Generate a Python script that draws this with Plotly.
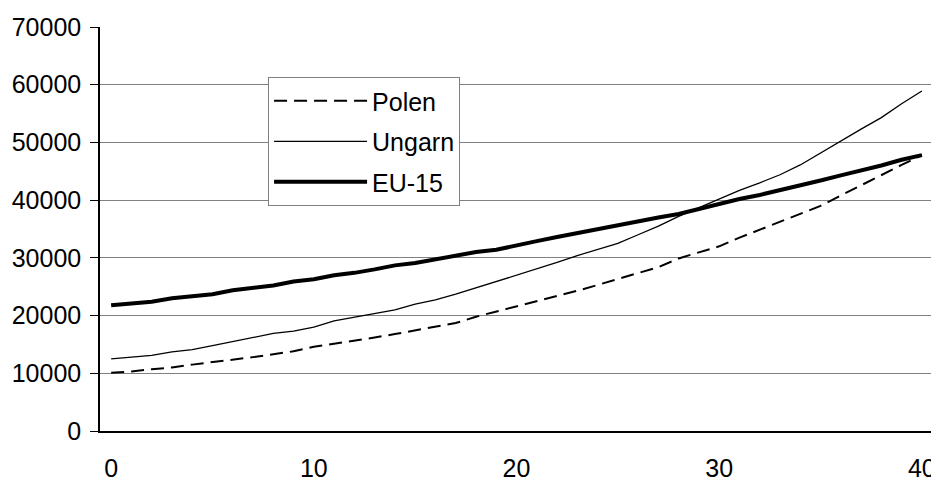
import plotly.graph_objects as go

years = list(range(0, 41))

polen = [10100, 10300, 10700, 11000, 11500, 11900, 12300, 12800, 13300, 13800,
         14600, 15100, 15700, 16200, 16800, 17400, 18000, 18700, 19800, 20700,
         21600, 22500, 23300, 24300, 25300, 26300, 27300, 28400, 29900, 31000,
         32000, 33500, 34900, 36300, 37600, 39000, 40800, 42600, 44300, 46100,
         47800]

ungarn = [12500, 12800, 13100, 13700, 14100, 14800, 15500, 16200, 16900, 17300,
          18000, 19100, 19700, 20400, 21000, 22000, 22700, 23700, 24800, 25900,
          27000, 28000, 29200, 30400, 31400, 32500, 34000, 35500, 37200, 38700,
          40200, 41700, 43000, 44400, 46100, 48200, 50300, 52300, 54300, 56700,
          58900]

eu15 = [21800, 22100, 22400, 23000, 23400, 23700, 24400, 24800, 25200, 25900,
        26300, 27000, 27400, 28000, 28700, 29100, 29700, 30300, 31000, 31400,
        32200, 32900, 33600, 34300, 34900, 35600, 36300, 37000, 37600, 38500,
        39400, 40200, 40900, 41700, 42600, 43400, 44300, 45100, 46000, 47000,
        47800]

x_ticks = [0, 10, 20, 30, 40]
y_ticks = [0, 10000, 20000, 30000, 40000, 50000, 60000, 70000]

FONT = "Liberation Sans, Arial, sans-serif"

fig = go.Figure()
fig.add_trace(go.Scatter(x=years, y=polen, name="Polen", mode="lines", legendgroup="a",
                         line=dict(color="black", width=2, dash="13px,7px")))
fig.add_trace(go.Scatter(x=years, y=ungarn, name="Ungarn", mode="lines", legendgroup="b",
                         line=dict(color="black", width=1.3)))
fig.add_trace(go.Scatter(x=years, y=eu15, name="EU-15", mode="lines", legendgroup="c",
                         line=dict(color="black", width=4)))

# page body has an 8px margin: figure is 8px smaller and margins shifted accordingly
fig.update_layout(
    width=931, height=473,
    margin=dict(l=92, r=7, t=19, b=50, autoexpand=False),
    paper_bgcolor="white", plot_bgcolor="white",
    font=dict(family=FONT, size=25, color="black"),
    showlegend=True,
    legend=dict(x=0.202, y=0.876, xanchor="left", yanchor="top",
                bgcolor="white", bordercolor="#808080", borderwidth=1,
                font=dict(family=FONT, size=25, color="black"),
                itemwidth=93, tracegroupgap=5, traceorder="grouped"),
    xaxis=dict(range=[-0.55, 40.5], tickvals=x_ticks, ticktext=[str(v) for v in x_ticks],
               showgrid=False, zeroline=False, showline=True, linecolor="black",
               linewidth=1.5, ticks="", ticklabelstandoff=14, automargin=False,
               tickfont=dict(family=FONT, size=25, color="black")),
    yaxis=dict(range=[0, 70000], tickvals=y_ticks, ticktext=[str(v) for v in y_ticks],
               showgrid=True, gridcolor="#808080", gridwidth=1, zeroline=False,
               showline=True, linecolor="black", linewidth=1.5, automargin=False,
               ticks="outside", ticklen=8, tickcolor="black", tickwidth=1,
               ticklabelstandoff=4,
               tickfont=dict(family=FONT, size=25, color="black")),
    shapes=[dict(type="line", xref="paper", yref="paper", x0=1, x1=1, y0=0, y1=1,
                 line=dict(color="#808080", width=2))],
)

fig.write_html("out.html")
